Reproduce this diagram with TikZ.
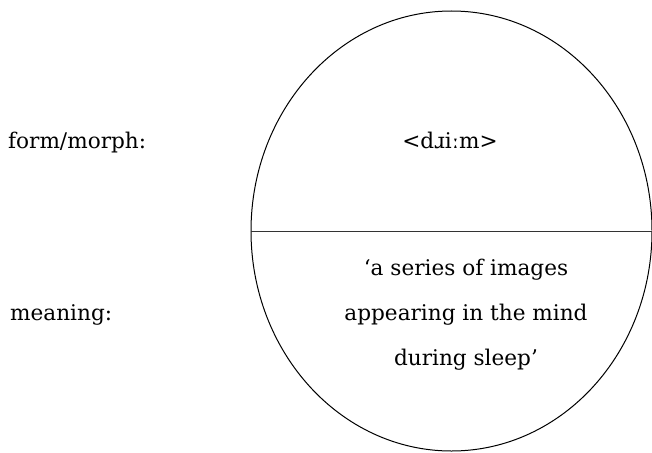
\documentclass[tikz,border=0pt]{standalone}
\usepackage{fontspec}
\setmainfont{DejaVu Serif}
\usetikzlibrary{shapes.geometric}

\begin{document}
\begin{tikzpicture}[
  x=1pt, y=-1pt,
  sign/.style={ellipse, draw=black, line width=1pt, minimum width=401pt, minimum height=440pt, inner sep=0pt},
  divider/.style={line width=1pt, draw=black!80},
  levelname/.style={anchor=base west, inner sep=0pt, font=\fontsize{21.6}{26}\selectfont},
  gloss/.style={align=center, inner sep=0pt, font=\fontsize{21.6}{45}\selectfont}
]
\useasboundingbox (0,0) rectangle (652,452);
\node (sign) [sign] at (451.5,231) {};
\draw [divider] (sign.west) -- (sign.east);

\node (form) [levelname] at (8,148) {form/morph:};
\node (meaning) [levelname] at (10,320) {meaning:};

\node (morph) [anchor=base, inner sep=0pt, font=\fontsize{21.6}{26}\selectfont] at (450,148) {<dɹiːm>};
\node (sense) [gloss] at (466,315) {‘a series of images\\appearing in the mind\\during sleep’};
\end{tikzpicture}
\end{document}
